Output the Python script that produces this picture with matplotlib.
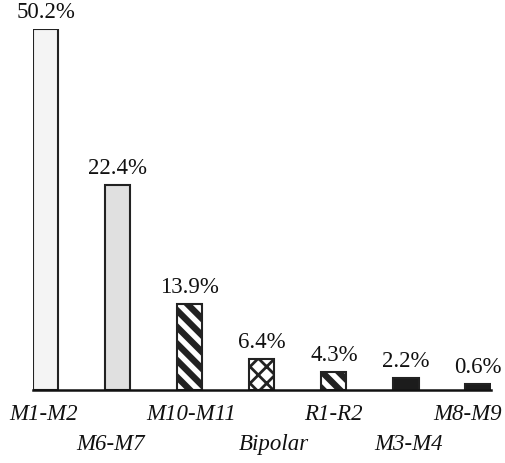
import matplotlib
matplotlib.use("Agg")
import matplotlib.pyplot as plt

categories = ["M1-M2", "M6-M7", "M10-M11", "Bipolar", "R1-R2", "M3-M4", "M8-M9"]
pct_labels = ["50.2%", "22.4%", "13.9%", "6.4%", "4.3%", "2.2%", "0.6%"]
# drawn bar heights (same units as the tallest bar)
bar_heights = [50.2, 28.5, 11.9, 4.3, 2.5, 1.7, 0.8]

fills = ["#f4f4f4", "#e0e0e0", "white", "white", "white", "#1c1c1c", "#1c1c1c"]
hatches = [None, None, "\\\\", "xx", "\\\\", None, None]
hatch_lw = [1.0, 1.0, 4.6, 2.0, 4.6, 1.0, 1.0]

plt.rcParams["font.family"] = ["Liberation Serif", "STIXGeneral", "DejaVu Serif"]

fig = plt.figure(figsize=(5.06, 4.64), dpi=100)
W, H = 506, 464
ax_left, ax_right, ax_bottom, ax_top = 33, 491, 391, 29.5
ax = fig.add_axes([ax_left / W, 1 - ax_bottom / H, (ax_right - ax_left) / W, (ax_bottom - ax_top) / H])

for i, (h, fc, ht) in enumerate(zip(bar_heights, fills, hatches)):
    plt.rcParams["hatch.linewidth"] = hatch_lw[i]
    plt.rcParams["hatch.color"] = "#111111"
    ax.bar(i, h, width=0.35, color=fc, edgecolor="#222222", linewidth=1.5,
           hatch=ht, zorder=2)
    ax.annotate(pct_labels[i], (i, h), xytext=(0, 5), textcoords="offset points",
                ha="center", va="bottom", fontsize=16.5, color="#111111",
                annotation_clip=False)

ax.set_xlim(-0.174, 6.18)
ax.set_ylim(0, bar_heights[0])
for s in ["top", "left", "right"]:
    ax.spines[s].set_visible(False)
ax.spines["bottom"].set_linewidth(1.8)
ax.spines["bottom"].set_color("#111111")
ax.spines["bottom"].set_zorder(3)
ax.set_yticks([])
ax.set_xticks([])

offsets = [-0.03, -0.1, 0.02, 0.17, 0.0, 0.03, -0.15]
for i, cat in enumerate(categories):
    y = -0.064 if i % 2 == 0 else -0.147
    ax.text(i + offsets[i], y, cat, transform=ax.get_xaxis_transform(),
            ha="center", va="center", fontsize=16.5, style="italic", color="#111111")

fig.savefig("out.png", dpi=100)
